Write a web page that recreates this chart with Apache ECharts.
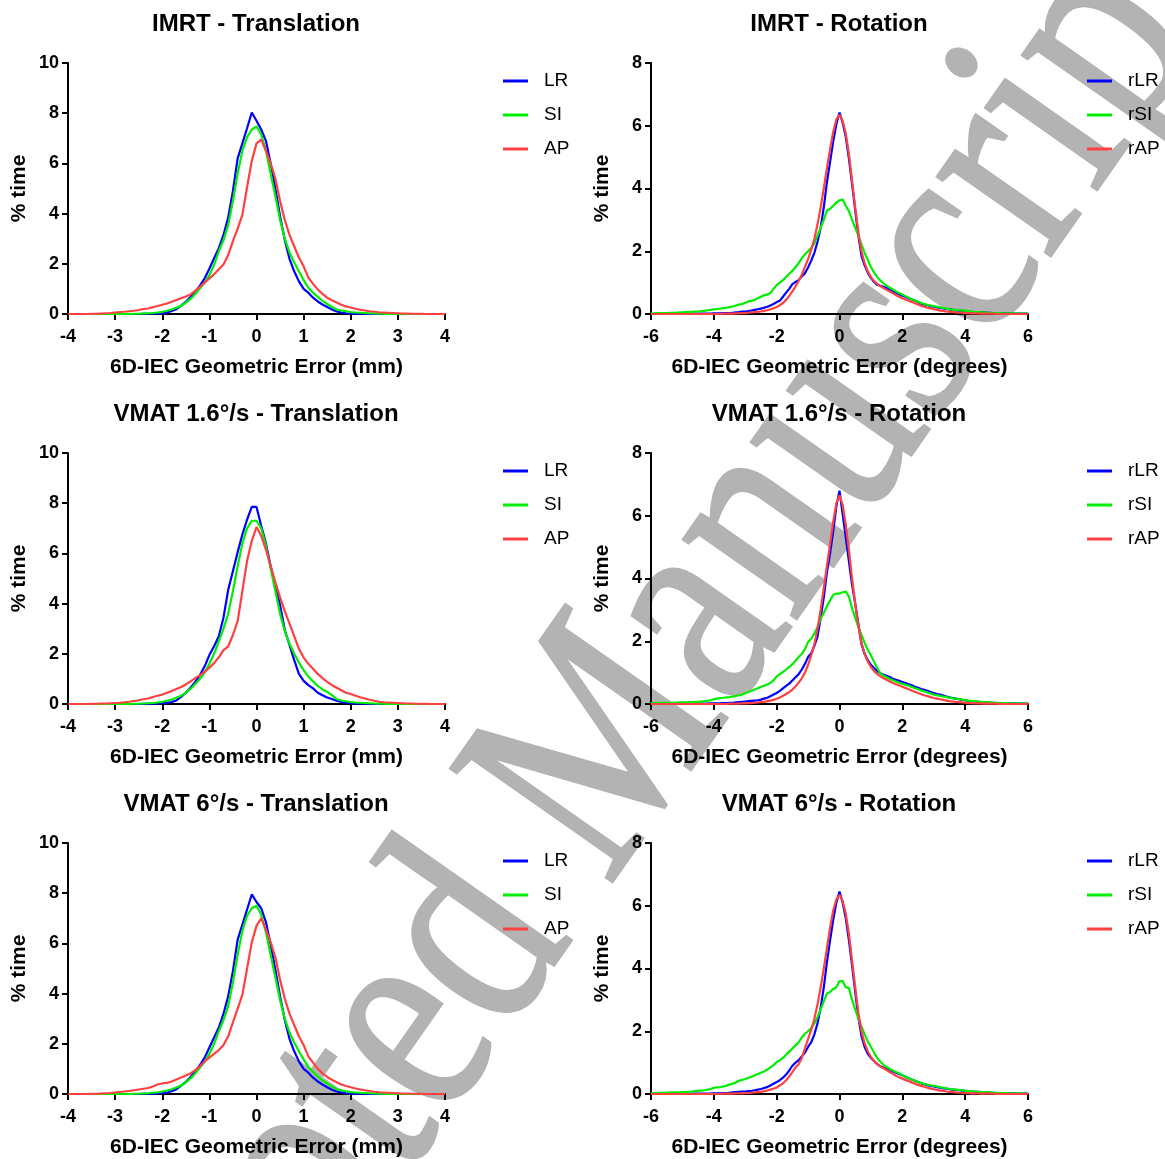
<!DOCTYPE html>
<html lang="en">
<head>
<meta charset="UTF-8">
<title>6D-IEC geometric error</title>
<script src="https://cdn.jsdelivr.net/npm/echarts@6/dist/echarts.min.js"></script>
<style>
  html, body { margin: 0; padding: 0; background: #fff; }
</style>
</head>
<body>
<div id="main" style="width:1165px;height:1159px;"></div>
<script type="text/javascript">
// sampling grids (mm / degrees)
var transX = [];
for (var i = 0; i <= 80; i++) transX.push(+(-4 + i * 0.1).toFixed(1));
var rotX = [];
for (var j = 0; j <= 120; j++) rotX.push(+(-6 + j * 0.1).toFixed(1));

var transNames = ['LR', 'SI', 'AP'];
var rotNames = ['rLR', 'rSI', 'rAP'];
var panelTitles = ['IMRT - Translation', 'IMRT - Rotation',
  'VMAT 1.6°/s - Translation', 'VMAT 1.6°/s - Rotation',
  'VMAT 6°/s - Translation', 'VMAT 6°/s - Rotation'];

// ---- IMRT translation (% time), x = -4.0 .. 4.0 step 0.1
var imrtLR = [0,0,0,0,0,0,0,0,0,0,
  0,0,0,0,0,0,0.01,0.01,0.01,0.02,
  0.03,0.06,0.12,0.19,0.33,0.48,0.68,0.88,1.13,1.42,
  1.8,2.22,2.62,3.15,3.85,4.9,6.2,6.8,7.4,8.03,
  7.7,7.35,6.9,6.0,5.0,3.9,2.95,2.2,1.7,1.3,
  1.0,0.85,0.65,0.5,0.38,0.28,0.18,0.1,0.06,0.03,
  0.02,0.01,0.01,0.01,0,0,0,0,0,0,
  0,0,0,0,0,0,0,0,0,0,
  0];
var imrtSI = [0,0,0,0,0,0,0,0,0,0,
  0,0,0,0,0.01,0.01,0.02,0.03,0.04,0.06,
  0.09,0.13,0.18,0.25,0.33,0.45,0.6,0.8,1.02,1.25,
  1.55,1.95,2.5,2.95,3.55,4.5,5.6,6.5,7.05,7.35,
  7.47,7.15,6.5,5.6,4.7,3.75,3.0,2.45,2.05,1.7,
  1.35,1.05,0.85,0.68,0.52,0.4,0.28,0.18,0.14,0.11,
  0.08,0.06,0.05,0.04,0.03,0.02,0.01,0.01,0,0,
  0,0,0,0,0,0,0,0,0,0,
  0];
var imrtAP = [0,0,0,0,0,0.01,0.01,0.02,0.03,0.04,
  0.06,0.08,0.09,0.11,0.13,0.16,0.2,0.22,0.27,0.32,
  0.37,0.42,0.49,0.56,0.63,0.7,0.78,0.92,1.08,1.25,
  1.42,1.58,1.78,1.97,2.35,2.9,3.4,3.95,5.05,6.1,
  6.8,6.95,6.5,6.0,5.4,4.5,3.75,3.15,2.7,2.25,
  1.9,1.45,1.2,0.98,0.8,0.65,0.55,0.46,0.37,0.3,
  0.26,0.21,0.17,0.14,0.11,0.09,0.07,0.06,0.05,0.04,
  0.03,0.02,0.02,0.01,0.01,0.01,0,0,0,0,
  0];

// ---- VMAT 1.6°/s translation
var v16LR = [0,0,0,0,0,0,0,0,0,0,
  0,0,0,0,0,0,0.01,0.01,0.01,0.02,
  0.03,0.05,0.08,0.14,0.28,0.45,0.65,0.88,1.15,1.5,
  1.95,2.3,2.7,3.45,4.55,5.3,6.05,6.75,7.35,7.85,
  7.85,7.1,6.4,5.5,4.7,3.95,2.95,2.35,1.75,1.2,
  0.92,0.75,0.62,0.45,0.35,0.26,0.2,0.13,0.08,0.05,
  0.03,0.02,0.01,0.01,0,0,0,0,0,0,
  0,0,0,0,0,0,0,0,0,0,
  0];
var v16SI = [0,0,0,0,0,0,0,0,0,0,
  0,0,0,0,0.01,0.01,0.02,0.03,0.04,0.06,
  0.09,0.13,0.18,0.25,0.33,0.45,0.6,0.8,1.0,1.25,
  1.6,2.0,2.5,3.0,3.6,4.5,5.5,6.4,7.0,7.3,
  7.3,7.0,6.3,5.4,4.5,3.6,2.9,2.4,2.0,1.65,
  1.35,1.1,0.9,0.72,0.58,0.48,0.35,0.2,0.14,0.11,
  0.08,0.06,0.05,0.04,0.03,0.02,0.01,0.01,0,0,
  0,0,0,0,0,0,0,0,0,0,
  0];
var v16AP = [0,0,0,0,0,0.01,0.01,0.02,0.02,0.03,
  0.04,0.05,0.07,0.09,0.12,0.15,0.19,0.22,0.28,0.33,
  0.38,0.45,0.52,0.6,0.68,0.78,0.9,1.03,1.15,1.28,
  1.45,1.63,1.86,2.15,2.3,2.75,3.3,4.5,5.7,6.5,
  7.05,6.7,6.15,5.5,4.85,4.25,3.7,3.2,2.7,2.2,
  1.85,1.6,1.4,1.2,1.03,0.88,0.75,0.65,0.55,0.45,
  0.4,0.33,0.27,0.22,0.17,0.13,0.09,0.07,0.06,0.05,
  0.04,0.03,0.02,0.02,0.01,0.01,0.01,0,0,0,
  0];

// ---- VMAT 6°/s translation
var v6LR = [0,0,0,0,0,0,0,0,0,0,
  0,0,0,0,0,0,0.01,0.01,0.01,0.02,
  0.03,0.06,0.11,0.19,0.33,0.48,0.68,0.9,1.15,1.45,
  1.85,2.25,2.65,3.2,3.9,4.9,6.15,6.75,7.35,7.95,
  7.65,7.4,6.85,5.95,4.95,3.9,2.95,2.2,1.7,1.3,
  1.0,0.85,0.65,0.5,0.38,0.27,0.17,0.1,0.06,0.03,
  0.02,0.01,0.01,0.01,0,0,0,0,0,0,
  0,0,0,0,0,0,0,0,0,0,
  0];
var v6SI = [0,0,0,0,0,0,0,0,0,0,
  0,0,0,0,0.01,0.01,0.02,0.03,0.05,0.07,
  0.1,0.14,0.19,0.26,0.34,0.46,0.62,0.82,1.05,1.28,
  1.6,2.0,2.5,2.95,3.5,4.45,5.55,6.5,7.1,7.4,
  7.5,7.15,6.45,5.55,4.65,3.75,3.0,2.45,2.05,1.7,
  1.38,1.08,0.88,0.7,0.54,0.42,0.3,0.19,0.15,0.11,
  0.08,0.06,0.05,0.04,0.03,0.02,0.01,0.01,0,0,
  0,0,0,0,0,0,0,0,0,0,
  0];
var v6AP = [0,0,0,0,0,0.01,0.01,0.02,0.03,0.04,
  0.06,0.08,0.1,0.12,0.15,0.18,0.21,0.24,0.3,0.38,
  0.42,0.44,0.5,0.58,0.66,0.74,0.82,0.95,1.1,1.3,
  1.45,1.6,1.75,1.95,2.3,2.85,3.4,3.95,5.0,6.05,
  6.7,7.0,6.55,6.05,5.45,4.55,3.8,3.2,2.75,2.3,
  1.95,1.5,1.25,1.0,0.82,0.68,0.57,0.47,0.38,0.32,
  0.27,0.22,0.18,0.15,0.12,0.09,0.07,0.06,0.05,0.04,
  0.03,0.02,0.02,0.01,0.01,0.01,0,0,0,0,
  0];

// ---- IMRT rotation (% time), x = -6.0 .. 6.0 step 0.1
var imrtRLR = [0,0,0,0,0,0,0,0,0,0,
  0,0,0,0,0.01,0.01,0.01,0.01,0.01,0.01,
  0.02,0.02,0.02,0.03,0.03,0.03,0.04,0.05,0.06,0.08,
  0.08,0.09,0.11,0.13,0.15,0.17,0.2,0.23,0.27,0.32,
  0.38,0.42,0.55,0.68,0.8,0.95,1.02,1.08,1.2,1.3,
  1.48,1.7,1.95,2.3,2.75,3.4,4.2,4.85,5.5,6.05,
  6.42,6.1,5.65,4.95,4.15,3.3,2.5,1.85,1.55,1.32,
  1.15,1.02,0.93,0.9,0.87,0.83,0.77,0.72,0.68,0.63,
  0.58,0.55,0.5,0.46,0.42,0.38,0.33,0.3,0.28,0.25,
  0.23,0.21,0.19,0.18,0.16,0.15,0.14,0.12,0.11,0.1,
  0.09,0.08,0.07,0.06,0.06,0.05,0.05,0.04,0.04,0.03,
  0.03,0.03,0.02,0.02,0.02,0.02,0.01,0.01,0.01,0.01,
  0.01];
var imrtRSI = [0.02,0.02,0.03,0.03,0.03,0.03,0.04,0.04,0.04,0.05,
  0.05,0.06,0.06,0.07,0.08,0.08,0.09,0.1,0.12,0.13,
  0.15,0.16,0.17,0.19,0.2,0.22,0.24,0.27,0.3,0.32,
  0.36,0.4,0.42,0.45,0.5,0.55,0.6,0.62,0.67,0.8,
  0.92,1.0,1.08,1.18,1.28,1.38,1.5,1.62,1.78,1.9,
  2.0,2.1,2.25,2.5,2.75,3.0,3.3,3.35,3.45,3.55,
  3.62,3.65,3.45,3.28,3.0,2.75,2.5,2.22,1.95,1.72,
  1.5,1.32,1.18,1.07,0.98,0.9,0.84,0.78,0.72,0.67,
  0.62,0.57,0.52,0.47,0.43,0.39,0.35,0.32,0.29,0.27,
  0.25,0.23,0.21,0.19,0.17,0.15,0.14,0.13,0.12,0.11,
  0.1,0.09,0.08,0.07,0.06,0.05,0.05,0.04,0.04,0.03,
  0.03,0.03,0.02,0.02,0.02,0.02,0.02,0.01,0.01,0.01,
  0.01];
var imrtRAP = [0,0,0,0,0,0,0,0,0,0,
  0,0,0,0,0,0,0,0,0,0,
  0,0,0,0.01,0.01,0.01,0.01,0.02,0.02,0.03,
  0.03,0.04,0.05,0.06,0.07,0.08,0.1,0.12,0.15,0.18,
  0.22,0.28,0.35,0.45,0.58,0.72,0.88,1.05,1.25,1.5,
  1.75,2.05,2.4,2.85,3.4,4.0,4.65,5.25,5.8,6.2,
  6.35,6.15,5.75,5.1,4.25,3.4,2.6,2.0,1.62,1.36,
  1.18,1.05,0.96,0.89,0.83,0.77,0.72,0.66,0.6,0.55,
  0.5,0.46,0.42,0.38,0.34,0.3,0.26,0.23,0.2,0.18,
  0.15,0.13,0.11,0.1,0.08,0.07,0.06,0.05,0.04,0.04,
  0.03,0.03,0.02,0.02,0.02,0.01,0.01,0.01,0.01,0.01,
  0,0,0,0,0,0,0,0,0,0,
  0];

// ---- VMAT 1.6°/s rotation
var v16RLR = [0,0,0,0,0,0,0,0,0,0,
  0,0,0,0.01,0.01,0.01,0.01,0.01,0.01,0.02,
  0.02,0.02,0.02,0.03,0.03,0.04,0.04,0.05,0.06,0.07,
  0.08,0.09,0.1,0.11,0.12,0.14,0.17,0.2,0.25,0.3,
  0.35,0.42,0.5,0.58,0.65,0.75,0.85,0.95,1.1,1.28,
  1.5,1.62,1.85,2.15,2.75,3.4,4.2,4.8,5.5,6.3,
  6.8,6.05,5.3,4.55,3.8,3.2,2.55,1.9,1.6,1.4,
  1.25,1.15,1.05,0.98,0.93,0.9,0.86,0.8,0.77,0.74,
  0.7,0.67,0.63,0.6,0.55,0.52,0.48,0.45,0.42,0.38,
  0.35,0.32,0.3,0.27,0.24,0.21,0.19,0.17,0.15,0.13,
  0.12,0.1,0.09,0.08,0.07,0.06,0.05,0.05,0.04,0.04,
  0.03,0.03,0.03,0.02,0.02,0.02,0.02,0.01,0.01,0.01,
  0.01];
var v16RSI = [0.03,0.03,0.03,0.04,0.04,0.04,0.04,0.04,0.04,0.05,
  0.05,0.05,0.06,0.06,0.06,0.07,0.08,0.09,0.1,0.12,
  0.15,0.17,0.19,0.2,0.21,0.22,0.24,0.26,0.28,0.3,
  0.34,0.38,0.42,0.46,0.5,0.55,0.58,0.62,0.67,0.75,
  0.88,0.95,1.02,1.1,1.18,1.27,1.38,1.5,1.6,1.75,
  1.98,2.08,2.25,2.45,2.72,2.9,3.12,3.3,3.48,3.52,
  3.52,3.56,3.58,3.42,3.05,2.75,2.45,2.2,1.95,1.72,
  1.55,1.35,1.15,0.97,0.9,0.85,0.8,0.76,0.72,0.68,
  0.64,0.61,0.58,0.54,0.5,0.47,0.43,0.4,0.37,0.33,
  0.3,0.28,0.26,0.24,0.22,0.2,0.18,0.17,0.16,0.14,
  0.12,0.11,0.1,0.09,0.08,0.07,0.06,0.05,0.05,0.04,
  0.04,0.03,0.03,0.03,0.02,0.02,0.02,0.02,0.01,0.01,
  0.01];
var v16RAP = [0,0,0,0,0,0,0,0,0,0,
  0,0,0,0,0,0,0,0,0,0,
  0,0,0,0,0,0.01,0.01,0.01,0.01,0.02,
  0.02,0.03,0.03,0.04,0.05,0.06,0.07,0.09,0.11,0.13,
  0.17,0.21,0.26,0.32,0.38,0.46,0.56,0.68,0.82,1.0,
  1.25,1.55,1.9,2.4,3.0,3.7,4.4,5.1,5.8,6.4,
  6.65,6.35,5.7,4.9,4.0,3.2,2.5,1.95,1.6,1.35,
  1.18,1.05,0.95,0.88,0.82,0.77,0.72,0.67,0.63,0.59,
  0.55,0.51,0.47,0.43,0.39,0.35,0.31,0.28,0.25,0.22,
  0.19,0.17,0.15,0.13,0.11,0.09,0.08,0.07,0.06,0.05,
  0.04,0.03,0.03,0.02,0.02,0.02,0.01,0.01,0.01,0.01,
  0.01,0,0,0,0,0,0,0,0,0,
  0];

// ---- VMAT 6°/s rotation
var v6RLR = [0,0,0,0,0,0,0,0,0,0,
  0,0,0,0.01,0.01,0.01,0.01,0.01,0.01,0.01,
  0.02,0.02,0.02,0.03,0.03,0.04,0.05,0.06,0.07,0.08,
  0.08,0.09,0.1,0.12,0.14,0.16,0.19,0.22,0.27,0.33,
  0.38,0.44,0.52,0.62,0.75,0.9,1.0,1.08,1.2,1.32,
  1.5,1.65,1.9,2.25,2.75,3.4,4.2,4.9,5.55,6.1,
  6.45,6.1,5.6,4.9,4.1,3.25,2.45,1.85,1.5,1.28,
  1.15,1.05,0.95,0.88,0.84,0.8,0.76,0.72,0.68,0.64,
  0.6,0.55,0.5,0.46,0.42,0.38,0.34,0.31,0.28,0.26,
  0.24,0.22,0.2,0.18,0.17,0.15,0.14,0.13,0.12,0.11,
  0.1,0.09,0.08,0.07,0.07,0.06,0.05,0.05,0.04,0.04,
  0.03,0.03,0.03,0.02,0.02,0.02,0.02,0.01,0.01,0.01,
  0.01];
var v6RSI = [0.03,0.03,0.03,0.04,0.04,0.04,0.05,0.05,0.05,0.05,
  0.06,0.06,0.07,0.08,0.09,0.1,0.11,0.12,0.14,0.16,
  0.2,0.21,0.22,0.24,0.26,0.3,0.33,0.37,0.42,0.45,
  0.48,0.52,0.55,0.6,0.64,0.68,0.72,0.78,0.85,0.92,
  1.02,1.08,1.15,1.25,1.35,1.45,1.55,1.65,1.8,1.92,
  2.0,2.1,2.25,2.45,2.7,2.95,3.2,3.25,3.35,3.4,
  3.6,3.6,3.4,3.38,3.0,2.7,2.4,2.15,1.9,1.68,
  1.5,1.32,1.15,1.03,0.93,0.86,0.8,0.75,0.7,0.66,
  0.6,0.55,0.5,0.46,0.42,0.38,0.35,0.32,0.3,0.28,
  0.26,0.24,0.22,0.2,0.18,0.16,0.15,0.14,0.13,0.12,
  0.1,0.09,0.09,0.08,0.07,0.06,0.06,0.05,0.05,0.04,
  0.04,0.03,0.03,0.03,0.02,0.02,0.02,0.02,0.01,0.01,
  0.01];
var v6RAP = [0,0,0,0,0,0,0,0,0,0,
  0,0,0,0,0,0,0,0,0,0,
  0,0,0,0.01,0.01,0.01,0.01,0.02,0.02,0.02,
  0.03,0.03,0.04,0.05,0.06,0.07,0.09,0.11,0.14,0.17,
  0.21,0.27,0.34,0.44,0.56,0.7,0.85,0.95,1.15,1.45,
  1.75,2.05,2.4,2.85,3.4,4.0,4.65,5.3,5.85,6.2,
  6.35,6.15,5.75,5.1,4.25,3.4,2.6,2.0,1.62,1.36,
  1.18,1.05,0.96,0.88,0.82,0.76,0.7,0.64,0.58,0.53,
  0.49,0.45,0.41,0.37,0.33,0.29,0.26,0.23,0.2,0.17,
  0.15,0.13,0.11,0.1,0.08,0.07,0.06,0.05,0.04,0.04,
  0.03,0.03,0.02,0.02,0.02,0.01,0.01,0.01,0.01,0.01,
  0,0,0,0,0,0,0,0,0,0,
  0];

var colors = ['#0000ff', '#00ee00', '#ff4040'];

// panel order: row by row, left = translation, right = rotation
var panelData = [
  [imrtLR, imrtSI, imrtAP], [imrtRLR, imrtRSI, imrtRAP],
  [v16LR, v16SI, v16AP], [v16RLR, v16RSI, v16RAP],
  [v6LR, v6SI, v6AP], [v6RLR, v6RSI, v6RAP]
];

function pairs(xs, ys) {
  var out = [];
  for (var k = 0; k < ys.length; k++) out.push([xs[k], ys[k]]);
  return out;
}

var font = 'Liberation Sans';
var rowTop = [63, 453, 843];
var colLeft = [68, 651];

var grids = [], xAxes = [], yAxes = [], series = [], titles = [], legends = [];

for (var p = 0; p < 6; p++) {
  var row = Math.floor(p / 2), col = p % 2;
  var isRot = col === 1;
  grids.push({ left: colLeft[col], top: rowTop[row], width: 377, height: 251 });

  titles.push({
    text: panelTitles[p],
    left: colLeft[col] + 188,
    textAlign: 'center',
    top: rowTop[row] - 51,
    padding: 0,
    textStyle: { fontFamily: font, fontSize: 24, fontWeight: 'bold', color: '#000' }
  });

  xAxes.push({
    gridIndex: p, type: 'value',
    min: isRot ? -6 : -4, max: isRot ? 6 : 4, interval: isRot ? 2 : 1,
    name: isRot ? '6D-IEC Geometric Error (degrees)' : '6D-IEC Geometric Error (mm)',
    nameLocation: 'middle', nameGap: 43,
    nameTextStyle: { fontFamily: font, fontSize: 21, fontWeight: 'bold', color: '#000' },
    axisLine: { show: true, onZero: false, lineStyle: { color: '#000', width: 2 } },
    axisTick: { show: true, inside: false, length: 6, lineStyle: { color: '#000', width: 2 } },
    axisLabel: { margin: 14, fontFamily: font, fontSize: 18, fontWeight: 'bold', color: '#000' },
    splitLine: { show: false }
  });

  yAxes.push({
    gridIndex: p, type: 'value',
    min: 0, max: isRot ? 8 : 10, interval: 2,
    name: '% time', nameLocation: 'middle', nameGap: 38,
    nameTextStyle: { fontFamily: font, fontSize: 21, fontWeight: 'bold', color: '#000' },
    axisLine: { show: true, onZero: false, lineStyle: { color: '#000', width: 2 } },
    axisTick: { show: true, inside: false, length: 6, lineStyle: { color: '#000', width: 2 } },
    axisLabel: { margin: 9, fontFamily: font, fontSize: 18, fontWeight: 'bold', color: '#000' },
    splitLine: { show: false }
  });

  var names = isRot ? rotNames : transNames;
  var xs = isRot ? rotX : transX;
  for (var s = 0; s < 3; s++) {
    series.push({
      name: names[s], type: 'line',
      xAxisIndex: p, yAxisIndex: p,
      data: pairs(xs, panelData[p][s]),
      symbol: 'none', smooth: false,
      lineStyle: { color: colors[s], width: 2.2 },
      itemStyle: { color: colors[s] },
      z: 3, animation: false
    });
  }

  legends.push({
    data: names.map(function (n) { return { name: n, icon: 'rect' }; }),
    orient: 'vertical',
    left: isRot ? 1082 : 498,
    top: rowTop[row] + 3,
    itemWidth: 25, itemHeight: 3, itemGap: 14,
    selectedMode: false,
    textStyle: { fontFamily: font, fontSize: 19, color: '#000', lineHeight: 20, padding: [0, 0, 0, 11] }
  });
}

var myChart = echarts.init(document.getElementById('main'));
var option = {
  backgroundColor: '#fff',
  animation: false,
  title: titles,
  legend: legends,
  grid: grids,
  xAxis: xAxes,
  yAxis: yAxes,
  series: series,
  // grey diagonal watermark behind the charts
  graphic: [{
    type: 'text',
    silent: true,
    z: -10,
    x: 580, y: 790,
    rotation: 55 * Math.PI / 180,
    scaleX: 1.0, scaleY: 1.25,
    style: {
      text: 'Accepted Manuscript',
      fontFamily: 'Liberation Serif',
      fontSize: 242,
      fill: '#b3b3b3',
      stroke: '#b3b3b3',
      lineWidth: 2,
      align: 'center',
      verticalAlign: 'middle'
    }
  }]
};
myChart.setOption(option);
</script>
</body>
</html>
